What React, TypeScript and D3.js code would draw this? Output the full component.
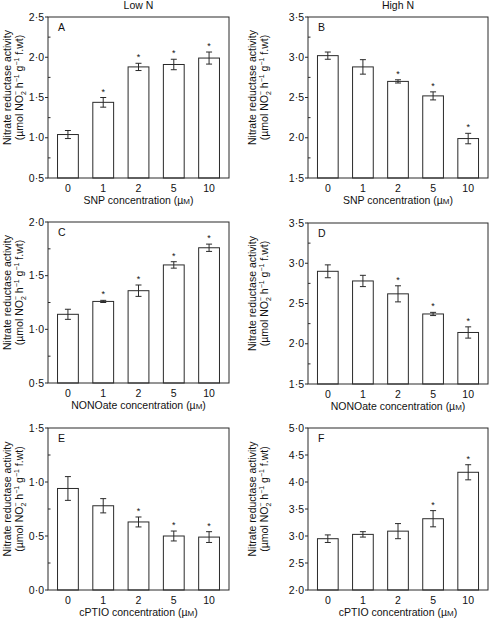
import React from "react";
import * as d3 from "d3";

// ---------- data ----------
const categories = ["0", "1", "2", "5", "10"];

const snpLowN = [1.04, 1.44, 1.88, 1.91, 1.99];
const snpLowNErr = [0.05, 0.06, 0.045, 0.065, 0.075];
const snpLowNSig = [false, true, true, true, true];

const snpHighN = [3.02, 2.88, 2.7, 2.52, 1.99];
const snpHighNErr = [0.045, 0.09, 0.02, 0.05, 0.065];
const snpHighNSig = [false, false, true, true, true];

const nonoLowN = [1.14, 1.26, 1.36, 1.6, 1.76];
const nonoLowNErr = [0.047, 0.01, 0.053, 0.03, 0.034];
const nonoLowNSig = [false, true, true, true, true];

const nonoHighN = [2.9, 2.78, 2.62, 2.37, 2.14];
const nonoHighNErr = [0.08, 0.07, 0.1, 0.02, 0.07];
const nonoHighNSig = [false, false, true, true, true];

const cptioLowN = [0.94, 0.78, 0.63, 0.5, 0.49];
const cptioLowNErr = [0.11, 0.066, 0.046, 0.046, 0.05];
const cptioLowNSig = [false, false, true, true, true];

const cptioHighN = [2.95, 3.03, 3.09, 3.32, 4.18];
const cptioHighNErr = [0.07, 0.05, 0.14, 0.15, 0.14];
const cptioHighNSig = [false, false, false, true, true];

const columnTitles = ["Low N", "High N"];
const panelLetters = ["A", "B", "C", "D", "E", "F"];
const xTitles = ["SNP", "NONOate", "cPTIO"];

const yDomains: [number, number][] = [
  [0.5, 2.5],
  [1.5, 3.5],
  [0.5, 2.0],
  [1.5, 3.5],
  [0, 1.5],
  [2, 5],
];
const hasMinor = [true, true, true, true, true, false];

// ---------- layout ----------
const W = 490;
const H = 619;
const FONT = "'Liberation Sans', Arial, Helvetica, sans-serif";
const INK = "#2a2a2a";

const frames = [
  { x0: 48, x1: 229, y0: 17, y1: 178, col: 0 },
  { x0: 308, x1: 488, y0: 17, y1: 178, col: 245 },
  { x0: 48, x1: 229, y0: 222, y1: 383, col: 0 },
  { x0: 308, x1: 488, y0: 223, y1: 384, col: 245 },
  { x0: 48, x1: 229, y0: 428, y1: 590, col: 0 },
  { x0: 308, x1: 488, y0: 428, y1: 590, col: 245 },
];

const seriesList = [
  { v: snpLowN, e: snpLowNErr, s: snpLowNSig },
  { v: snpHighN, e: snpHighNErr, s: snpHighNSig },
  { v: nonoLowN, e: nonoLowNErr, s: nonoLowNSig },
  { v: nonoHighN, e: nonoHighNErr, s: nonoHighNSig },
  { v: cptioLowN, e: cptioLowNErr, s: cptioLowNSig },
  { v: cptioHighN, e: cptioHighNErr, s: cptioHighNSig },
];

const fmt = (d: number) => d3.format(".1f")(d).replace(".", "\u00B7");

function YLabel({ x, y }: { x: number; y: number }) {
  return (
    <g transform={`translate(${x},${y}) rotate(-90)`} fontFamily={FONT} fontSize={10.5} fill="#111">
      <text x={0} y={-11.5} textAnchor="middle">Nitrate reductase activity</text>
      <text x={0} y={0} textAnchor="middle">
        (µmol NO
        <tspan dy={3} fontSize={7}>2</tspan>
        <tspan dx={-4} dy={-8} fontSize={7}>{"\u2212"}</tspan>
        <tspan dy={5}> h</tspan>
        <tspan dy={-4} fontSize={7}>{"\u22121"}</tspan>
        <tspan dy={4}> g</tspan>
        <tspan dy={-4} fontSize={7}>{"\u22121"}</tspan>
        <tspan dy={4}> f.wt)</tspan>
      </text>
    </g>
  );
}

function Panel({ i }: { i: number }) {
  const f = frames[i];
  const data = seriesList[i];
  const x = d3
    .scaleBand<string>()
    .domain(categories)
    .range([f.x0, f.x1])
    .paddingInner(0.41)
    .paddingOuter(0.27);
  const y = d3.scaleLinear().domain(yDomains[i]).range([f.y1, f.y0]);
  const [lo, hi] = yDomains[i];
  const major = d3.range(lo, hi + 1e-9, 0.5);
  const minor = hasMinor[i] ? d3.range(lo + 0.25, hi, 0.5) : [];
  const row = Math.floor(i / 2);
  const cx = (f.x0 + f.x1) / 2;
  const cy = (f.y0 + f.y1) / 2;

  return (
    <g fontFamily={FONT}>
      {/* bars */}
      {categories.map((c, k) => {
        const bx = x(c)!;
        const bw = x.bandwidth();
        const top = y(data.v[k]);
        const eTop = y(data.v[k] + data.e[k]);
        const eBot = y(data.v[k] - data.e[k]);
        const mx = bx + bw / 2;
        return (
          <g key={c}>
            <rect x={bx} y={top} width={bw} height={f.y1 - top} fill="#fff" stroke={INK} strokeWidth={1} />
            <line x1={mx} x2={mx} y1={eTop} y2={eBot} stroke={INK} strokeWidth={1} />
            <line x1={mx - 3} x2={mx + 3} y1={eTop} y2={eTop} stroke={INK} strokeWidth={1} />
            <line x1={mx - 3} x2={mx + 3} y1={eBot} y2={eBot} stroke={INK} strokeWidth={1} />
            {data.s[k] && (
              <text x={mx} y={eTop - 3} textAnchor="middle" fontSize={9} fill="#111">*</text>
            )}
            <text x={mx} y={f.y1 + 14} textAnchor="middle" fontSize={10.5} fill="#111">{c}</text>
          </g>
        );
      })}
      {/* frame */}
      <rect x={f.x0} y={f.y0} width={f.x1 - f.x0} height={f.y1 - f.y0} fill="none" stroke={INK} strokeWidth={1} />
      {/* y ticks */}
      {major.map((t) => (
        <g key={"M" + t}>
          <line x1={f.x0 - 3} x2={f.x0} y1={y(t)} y2={y(t)} stroke={INK} strokeWidth={1} />
          <text x={f.x0 - 4} y={y(t) + 3.5} textAnchor="end" fontSize={10.5} fill="#111">{fmt(t)}</text>
        </g>
      ))}
      {minor.map((t) => (
        <line key={"m" + t} x1={f.x0} x2={f.x0 + 2.5} y1={y(t)} y2={y(t)} stroke={INK} strokeWidth={1} />
      ))}
      {/* panel letter */}
      <text x={f.x0 + 10} y={f.y0 + 14} fontSize={10.5} fill="#111">{panelLetters[i]}</text>
      {/* x title */}
      <text x={cx} y={f.y1 + 26} textAnchor="middle" fontSize={10.5} fill="#111">
        {xTitles[row]} concentration (µ<tspan fontSize={8}>M</tspan>)
      </text>
      {/* column title */}
      {row === 0 && (
        <text x={cx} y={9} textAnchor="middle" fontSize={10.5} fill="#111">{columnTitles[i % 2]}</text>
      )}
      <YLabel x={f.col + 22.5} y={cy - 10} />
    </g>
  );
}

export default function App() {
  return (
    <svg width={W} height={H} style={{ position: "absolute", left: 0, top: 0, background: "#fff" }}>
      <rect width={W} height={H} fill="#fff" />
      {frames.map((_, i) => (
        <Panel key={i} i={i} />
      ))}
    </svg>
  );
}
